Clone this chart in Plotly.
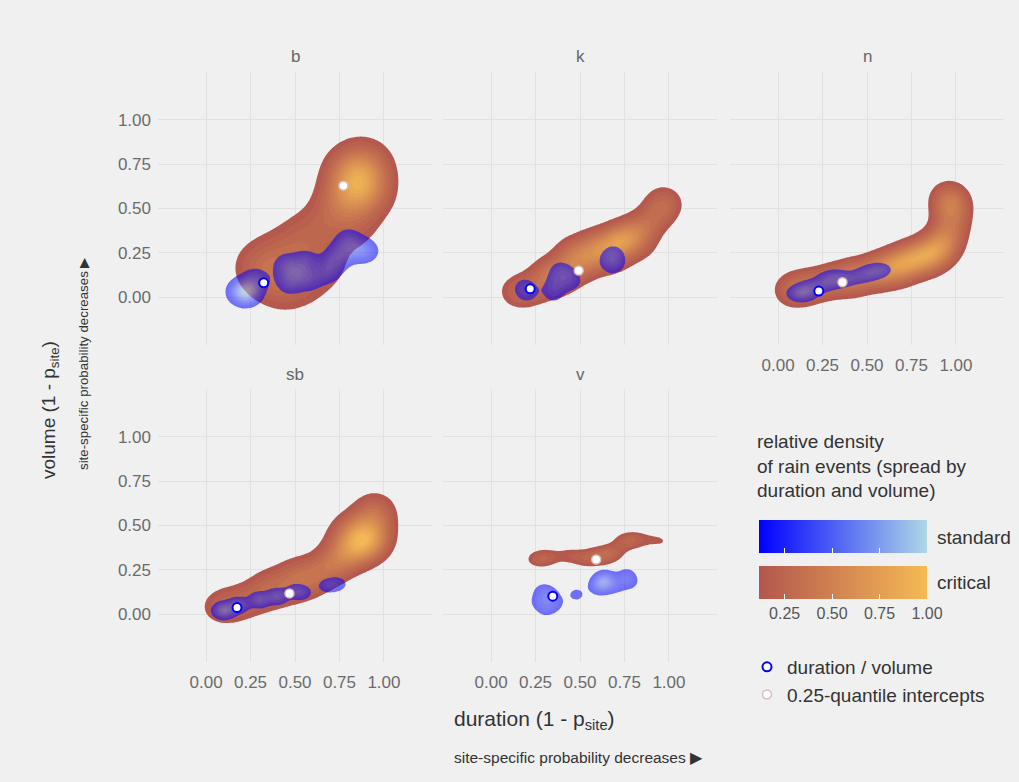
import numpy as np
import plotly.graph_objects as go

# ---------------- data ----------------
PANELS = ["b", "k", "n", "sb", "v"]

# rain events (duration, volume, count) per panel and class
B_CRITICAL = [(0.86, 0.66, 8), (0.82, 0.58, 5), (0.90, 0.75, 4), (0.80, 0.72, 3), (0.92, 0.58, 3),
              (0.74, 0.50, 3), (0.66, 0.40, 2), (0.56, 0.30, 2), (0.48, 0.22, 2), (0.40, 0.14, 2),
              (0.34, 0.10, 2), (0.27, 0.17, 2), (0.45, 0.03, 2), (0.58, 0.08, 2),
              (0.70, 0.18, 2), (0.85, 0.38, 2), (0.40, 0.28, 1), (0.52, 0.38, 1), (0.31, 0.22, 1)]
B_STANDARD = [(0.23, 0.03, 3), (0.19, 0.03, 1), (0.28, 0.10, 1),
              (0.47, 0.08, 1), (0.51, 0.14, 1), (0.56, 0.20, 1), (0.45, 0.18, 1), (0.58, 0.10, 1),
              (0.72, 0.20, 1), (0.76, 0.25, 1), (0.84, 0.27, 1), (0.90, 0.26, 1), (0.68, 0.14, 1),
              (0.80, 0.32, 1)]
K_CRITICAL = [(0.14, 0.03, 2), (0.22, 0.04, 2), (0.32, 0.08, 2), (0.40, 0.12, 3), (0.50, 0.18, 3),
              (0.60, 0.24, 4), (0.70, 0.30, 5), (0.76, 0.33, 4), (0.84, 0.38, 3), (0.92, 0.45, 2),
              (0.98, 0.52, 2), (0.96, 0.55, 1), (0.35, 0.15, 1), (0.48, 0.26, 1), (0.30, 0.14, 1),
              (0.45, 0.24, 2), (0.58, 0.30, 2), (0.70, 0.20, 1), (0.85, 0.28, 1)]
K_STANDARD = [(0.18, 0.05, 1), (0.21, 0.03, 1),
              (0.36, 0.07, 1), (0.42, 0.12, 1), (0.46, 0.09, 1), (0.38, 0.15, 1), (0.35, 0.02, 1),
              (0.66, 0.20, 1), (0.69, 0.24, 1), (0.70, 0.19, 1)]
N_CRITICAL = [(0.08, 0.04, 2), (0.18, 0.06, 2), (0.30, 0.09, 2), (0.42, 0.11, 3), (0.55, 0.14, 3),
              (0.66, 0.17, 4), (0.76, 0.21, 4), (0.86, 0.24, 4), (0.93, 0.30, 3), (0.97, 0.40, 2),
              (0.98, 0.50, 2), (0.96, 0.56, 2)]
N_STANDARD = [(0.13, 0.02, 3), (0.18, 0.05, 2), (0.27, 0.08, 2), (0.36, 0.10, 2), (0.46, 0.11, 1),
              (0.55, 0.14, 1), (0.30, 0.12, 1), (0.58, 0.16, 1), (0.50, 0.14, 1)]
SB_CRITICAL = [(0.08, 0.04, 2), (0.18, 0.06, 2), (0.30, 0.10, 2), (0.42, 0.14, 2), (0.54, 0.18, 3),
               (0.66, 0.24, 3), (0.76, 0.32, 4), (0.86, 0.38, 5), (0.92, 0.42, 5), (0.94, 0.52, 3),
               (0.85, 0.48, 2), (0.50, 0.25, 1), (0.35, 0.18, 1), (0.95, 0.60, 2), (0.80, 0.45, 2)]
SB_STANDARD = [(0.10, 0.02, 3), (0.18, 0.05, 2), (0.30, 0.08, 2), (0.40, 0.10, 2), (0.50, 0.13, 1),
               (0.54, 0.12, 1), (0.68, 0.16, 1), (0.74, 0.17, 1)]
V_CRITICAL = [(0.26, 0.31, 2), (0.32, 0.32, 2), (0.42, 0.33, 1), (0.46, 0.33, 1), (0.52, 0.31, 1),
              (0.56, 0.32, 2), (0.63, 0.33, 3), (0.69, 0.35, 2), (0.75, 0.41, 2), (0.81, 0.42, 2),
              (0.90, 0.42, 1), (0.97, 0.41, 1)]
V_STANDARD = [(0.27, 0.07, 1), (0.33, 0.11, 1), (0.29, 0.13, 1), (0.36, 0.06, 1), (0.31, 0.03, 1),
              (0.48, 0.11, 1), (0.61, 0.16, 2), (0.64, 0.19, 3), (0.76, 0.22, 1), (0.70, 0.16, 1),
              (0.78, 0.18, 1)]

# highest relative density reached in each panel
PEAK_CRITICAL = [0.92, 0.78, 0.85, 1.0, 0.33]
PEAK_STANDARD = [0.90, 0.30, 0.50, 0.55, 0.60]

# kernel bandwidths (duration, volume)
BW_CRITICAL = [(0.10, 0.10), (0.07, 0.065), (0.07, 0.065), (0.08, 0.07), (0.05, 0.035)]
BW_STANDARD = [(0.05, 0.045), (0.045, 0.045), (0.05, 0.03), (0.04, 0.03), (0.04, 0.035)]

# duration / volume points and 0.25-quantile intercepts
MEDIAN_DUR = [0.324, 0.220, 0.229, 0.174, 0.347]
MEDIAN_VOL = [0.081, 0.047, 0.034, 0.037, 0.101]
Q25_DUR = [0.772, 0.493, 0.362, 0.469, 0.591]
Q25_VOL = [0.629, 0.150, 0.084, 0.117, 0.308]

TICKS = [0, 0.25, 0.5, 0.75, 1.0]
TICK_TEXT = ["0.00", "0.25", "0.50", "0.75", "1.00"]
CBAR_TICKS = [0.25, 0.5, 0.75, 1.0]
CBAR_TEXT = ["0.25", "0.50", "0.75", "1.00"]

CRITICAL_EVENTS = [B_CRITICAL, K_CRITICAL, N_CRITICAL, SB_CRITICAL, V_CRITICAL]
STANDARD_EVENTS = [B_STANDARD, K_STANDARD, N_STANDARD, SB_STANDARD, V_STANDARD]

# ---------------- styling ----------------
W, H = 1019, 782
BG = "#F0F0F0"
FONT = "Liberation Sans, Arial, sans-serif"
CRIT_LO, CRIT_HI = (179, 86, 78), (245, 186, 85)
STD_LO, STD_HI = (0, 0, 255), (173, 216, 230)
VMIN = 0.115
START, END, SIZE = 0.10, 1.0, 0.06

# panel pixel boxes: (left, top, right, bottom)
BOXES = [(158, 72, 432, 345), (443, 72, 717, 345), (730, 72, 1004, 345),
         (158, 389, 432, 662), (443, 389, 717, 662)]
RANGE = [-0.27, 1.27]

GX = np.linspace(-0.3, 1.3, 161)
GY = np.linspace(-0.3, 1.3, 161)


def kde(events, bw):
    X, Y = np.meshgrid(GX, GY)
    Z = np.zeros_like(X)
    for ex, ey, n in events:
        Z += n * np.exp(-0.5 * (((X - ex) / bw[0]) ** 2 + ((Y - ey) / bw[1]) ** 2))
    return Z / Z.max()


def col(lo, hi, v):
    f = min(max((v - VMIN) / (1 - VMIN), 0), 1)
    return "rgb(%d,%d,%d)" % tuple(round(lo[i] + (hi[i] - lo[i]) * f) for i in range(3))


def contour_scale(lo, hi):
    nc = int(np.floor((END + SIZE / 1e6 - START) / SIZE)) + 1
    t0 = 0.5 / nc
    t1 = ((1.0 - START) / SIZE + 0.5) / nc
    cs = [[0, "rgba(255,255,255,0)"], [t0, "rgba(255,255,255,0)"], [t0, col(lo, hi, START)]]
    if t1 < 1:
        cs += [[t1, col(lo, hi, 1.0)], [1, col(lo, hi, 1.0)]]
    else:
        cs += [[1, col(lo, hi, START + (nc - 0.5) * SIZE)]]
    return cs


fig = go.Figure()

for i, p in enumerate(PANELS):
    xa = "x" if i == 0 else "x%d" % (i + 1)
    ya = "y" if i == 0 else "y%d" % (i + 1)
    zc = PEAK_CRITICAL[i] * kde(CRITICAL_EVENTS[i], BW_CRITICAL[i])
    zs = PEAK_STANDARD[i] * kde(STANDARD_EVENTS[i], BW_STANDARD[i])
    for z, lo, hi, op in [(zc, CRIT_LO, CRIT_HI, 1.0), (zs, STD_LO, STD_HI, 0.55)]:
        fig.add_trace(go.Contour(
            x=GX, y=GY, z=z, xaxis=xa, yaxis=ya,
            autocontour=False,
            contours=dict(start=START, end=END, size=SIZE, coloring="fill", showlines=False),
            line=dict(width=0), colorscale=contour_scale(lo, hi), showscale=False,
            opacity=op, hoverinfo="skip"))
    fig.add_trace(go.Scatter(
        x=[Q25_DUR[i]], y=[Q25_VOL[i]], xaxis=xa, yaxis=ya, mode="markers",
        marker=dict(size=9, color="white", line=dict(color="#D9BBBB", width=1.5)),
        name="0.25-quantile intercepts", showlegend=False, hoverinfo="skip"))
    fig.add_trace(go.Scatter(
        x=[MEDIAN_DUR[i]], y=[MEDIAN_VOL[i]], xaxis=xa, yaxis=ya, mode="markers",
        marker=dict(size=9, color="white", line=dict(color="#0000FF", width=2)),
        name="duration / volume", showlegend=False, hoverinfo="skip"))

# legend entries
fig.add_trace(go.Scatter(x=[None], y=[None], mode="markers", name="duration / volume",
                         marker=dict(size=9, color="white", line=dict(color="#0000FF", width=2))))
fig.add_trace(go.Scatter(x=[None], y=[None], mode="markers", name="0.25-quantile intercepts",
                         marker=dict(size=9, color="white", line=dict(color="#D9BBBB", width=1.5))))

# colour bars
CB_L, CB_R = 759, 927
for lo, hi, top, showlab in [(STD_LO, STD_HI, 520, False), (CRIT_LO, CRIT_HI, 566, True)]:
    fig.add_trace(go.Scatter(
        x=[None, None], y=[None, None], mode="markers", showlegend=False, hoverinfo="skip",
        marker=dict(color=[VMIN, 1.0], cmin=VMIN, cmax=1.0,
                    colorscale=[[0, col(lo, hi, VMIN)], [1, col(lo, hi, 1.0)]],
                    showscale=True,
                    colorbar=dict(orientation="h", lenmode="pixels", len=CB_R - CB_L,
                                  thicknessmode="pixels", thickness=33,
                                  x=(CB_L + CB_R) / 2 / W, xanchor="center",
                                  y=1 - top / H, yanchor="top", xpad=0, ypad=0,
                                  outlinewidth=0,
                                  tickvals=CBAR_TICKS, ticktext=CBAR_TEXT, tickangle=0,
                                  ticks="inside", ticklen=5, tickcolor="white", tickwidth=1,
                                  showticklabels=showlab,
                                  tickfont=dict(size=16, color="#555555", family=FONT)))))

layout = dict(width=W, height=H, margin=dict(l=0, r=0, t=0, b=0),
              paper_bgcolor=BG, plot_bgcolor=BG, font=dict(family=FONT),
              showlegend=True,
              legend=dict(x=747 / W, y=1 - 648 / H, xanchor="left", yanchor="top",
                          font=dict(size=19, color="#333333", family=FONT),
                          bgcolor="rgba(0,0,0,0)", tracegroupgap=0))

for i, (l, t, r, b) in enumerate(BOXES):
    sfx = "" if i == 0 else str(i + 1)
    show_x = i in (2, 3, 4)
    show_y = i in (0, 3)
    common = dict(range=RANGE, tickvals=TICKS, ticktext=TICK_TEXT, showgrid=True,
                  gridcolor="#E1E1E1", gridwidth=1.3, zeroline=False, showline=False,
                  ticks="", fixedrange=True,
                  tickfont=dict(size=17, color="#6B6B6B", family=FONT))
    layout["xaxis" + sfx] = dict(common, domain=[l / W, r / W], showticklabels=show_x,
                                 anchor="y" + sfx, ticklabelstandoff=8)
    layout["yaxis" + sfx] = dict(common, domain=[1 - b / H, 1 - t / H], showticklabels=show_y,
                                 anchor="x" + sfx, ticklabelstandoff=6)

fig.update_layout(**layout)

ann = []
for i, p in enumerate(PANELS):
    l, t, r, b = BOXES[i]
    ann.append(dict(text=p, x=(l + r) / 2 / W, y=1 - (t - 15) / H,
                    font=dict(size=17, color="#666666", family=FONT)))
ann += [
    dict(text="volume (1 - p<sub>site</sub>)", x=50 / W, y=1 - 410 / H, textangle=-90,
         font=dict(size=19, color="#333333", family=FONT)),
    dict(text="site-specific probability decreases ▶", x=83 / W, y=1 - 364 / H, textangle=-90,
         font=dict(size=13.3, color="#333333", family=FONT)),
    dict(text="duration (1 - p<sub>site</sub>)", x=452 / W, y=1 - 720 / H, xanchor="left",
         font=dict(size=21, color="#333333", family=FONT)),
    dict(text="site-specific probability decreases ▶", x=578 / W, y=1 - 757 / H,
         font=dict(size=15.5, color="#333333", family=FONT)),
    dict(text="relative density<br>of rain events (spread by<br>duration and volume)",
         x=755 / W, y=1 - 429 / H, xanchor="left", yanchor="top", align="left",
         font=dict(size=19, color="#333333", family=FONT)),
    dict(text="standard", x=935 / W, y=1 - 537 / H, xanchor="left",
         font=dict(size=19, color="#333333", family=FONT)),
    dict(text="critical", x=935 / W, y=1 - 582 / H, xanchor="left",
         font=dict(size=19, color="#333333", family=FONT)),
]
for a in ann:
    a.setdefault("xref", "paper")
    a.setdefault("yref", "paper")
    a.setdefault("showarrow", False)
    a.setdefault("yanchor", "middle")
    a.setdefault("xanchor", "center")
fig.update_layout(annotations=ann)

fig.write_html("out.html")
